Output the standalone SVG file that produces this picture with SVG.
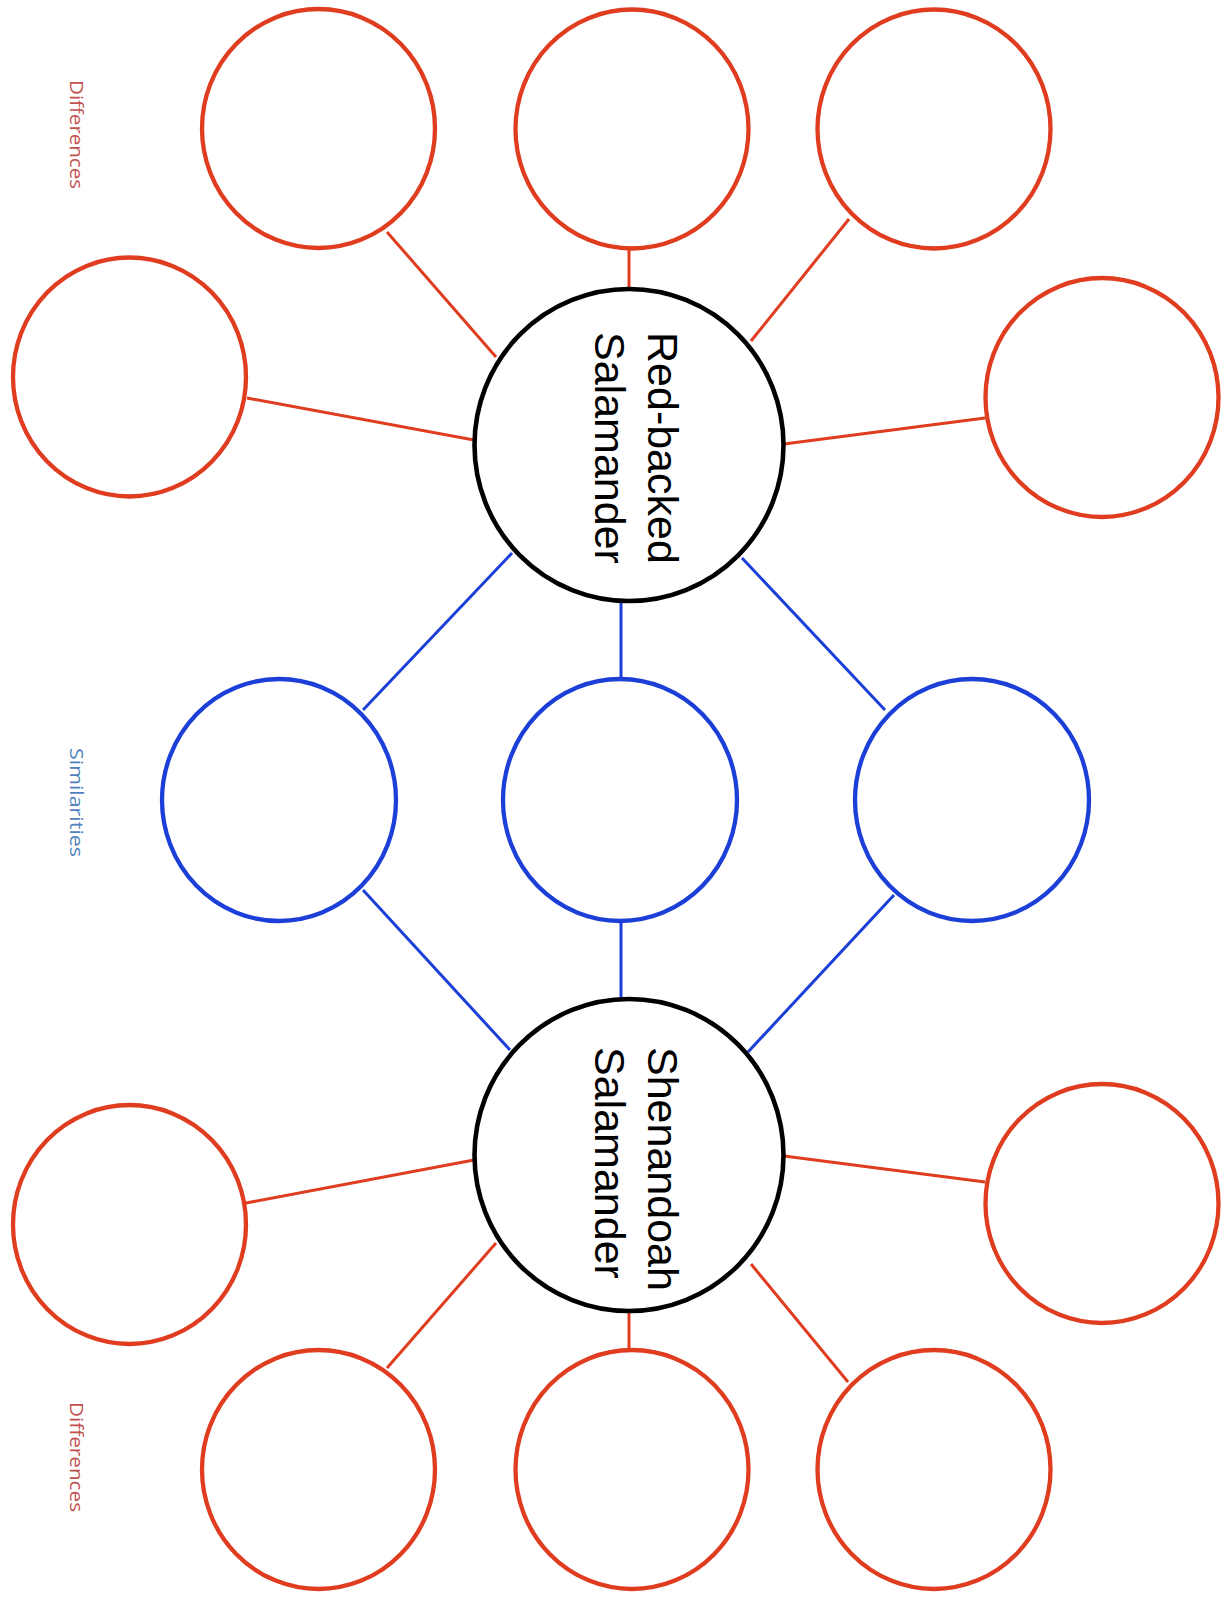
<svg xmlns="http://www.w3.org/2000/svg" width="1223" height="1598" viewBox="0 0 1223 1598">
<style>
.red{fill:none;stroke:#E03C1F;stroke-width:4.3}
.blue{fill:none;stroke:#1C3FD8;stroke-width:4.3}
.main{fill:#fff;stroke:#000;stroke-width:4.6}
.lr{stroke:#E03C1F;stroke-width:3;fill:none}
.lb{stroke:#1C3FD8;stroke-width:3;fill:none}
.t{font-family:"Liberation Sans",Arial,sans-serif;font-size:43px;fill:#000}
.lab{font-family:"Open Sans","Liberation Sans",sans-serif;font-size:18px}
</style>
<rect width="1223" height="1598" fill="#fff"/>
<g id="connectors">
<line class="lr" x1="387" y1="232" x2="496" y2="357"/>
<line class="lr" x1="629" y1="249" x2="629" y2="290"/>
<line class="lr" x1="849" y1="219" x2="751" y2="341"/>
<line class="lr" x1="247" y1="398" x2="474" y2="440"/>
<line class="lr" x1="985" y1="418" x2="784" y2="444"/>
<line class="lb" x1="512" y1="553" x2="363" y2="710"/>
<line class="lb" x1="621" y1="600" x2="621" y2="680"/>
<line class="lb" x1="742" y1="558" x2="885" y2="710"/>
<line class="lb" x1="363" y1="890" x2="510" y2="1050"/>
<line class="lb" x1="621" y1="920" x2="621" y2="1000"/>
<line class="lb" x1="894" y1="895" x2="748" y2="1052"/>
<line class="lr" x1="246" y1="1203" x2="474" y2="1160"/>
<line class="lr" x1="985" y1="1182" x2="784" y2="1156"/>
<line class="lr" x1="387" y1="1368" x2="496" y2="1243"/>
<line class="lr" x1="629" y1="1310" x2="629" y2="1351"/>
<line class="lr" x1="848" y1="1382" x2="751" y2="1264"/>
</g>
<g id="diff-top-1"><ellipse class="red" cx="318.5" cy="128.5" rx="116.5" ry="119.5"/></g>
<g id="diff-top-2"><ellipse class="red" cx="632" cy="129" rx="116.5" ry="119.5"/></g>
<g id="diff-top-3"><ellipse class="red" cx="934" cy="129" rx="116.5" ry="119.5"/></g>
<g id="diff-top-left"><ellipse class="red" cx="129.5" cy="377" rx="116.5" ry="119.5"/></g>
<g id="diff-top-right"><ellipse class="red" cx="1102" cy="397.5" rx="116.5" ry="119.5"/></g>
<g id="red-backed">
<ellipse class="main" cx="629" cy="445" rx="154.5" ry="156"/>
<text class="t" transform="translate(648,332) rotate(90)">Red-backed</text>
<text class="t" transform="translate(595,332) rotate(90)">Salamander</text>
</g>
<g id="sim-1"><ellipse class="blue" cx="279" cy="800" rx="117" ry="121"/></g>
<g id="sim-2"><ellipse class="blue" cx="620" cy="800" rx="117" ry="121"/></g>
<g id="sim-3"><ellipse class="blue" cx="972" cy="800" rx="117" ry="121"/></g>
<g id="shenandoah">
<ellipse class="main" cx="629" cy="1155" rx="154.5" ry="156"/>
<text class="t" transform="translate(648,1047) rotate(90)">Shenandoah</text>
<text class="t" transform="translate(595,1047) rotate(90)">Salamander</text>
</g>
<g id="diff-bot-left"><ellipse class="red" cx="129.5" cy="1224.5" rx="116.5" ry="119.5"/></g>
<g id="diff-bot-right"><ellipse class="red" cx="1102" cy="1203.5" rx="116.5" ry="119.5"/></g>
<g id="diff-bot-1"><ellipse class="red" cx="318.5" cy="1469.5" rx="116.5" ry="119.5"/></g>
<g id="diff-bot-2"><ellipse class="red" cx="632" cy="1469.5" rx="116.5" ry="119.5"/></g>
<g id="diff-bot-3"><ellipse class="red" cx="934" cy="1469.5" rx="116.5" ry="119.5"/></g>
<g id="labels">
<text class="lab" fill="#C0504D" transform="translate(70,80) rotate(90)" textLength="109" lengthAdjust="spacingAndGlyphs">Differences</text>
<text class="lab" fill="#4F81BD" transform="translate(70,748) rotate(90)" textLength="109" lengthAdjust="spacingAndGlyphs">Similarities</text>
<text class="lab" fill="#C0504D" transform="translate(70,1402) rotate(90)" textLength="110" lengthAdjust="spacingAndGlyphs">Differences</text>
</g>
</svg>
